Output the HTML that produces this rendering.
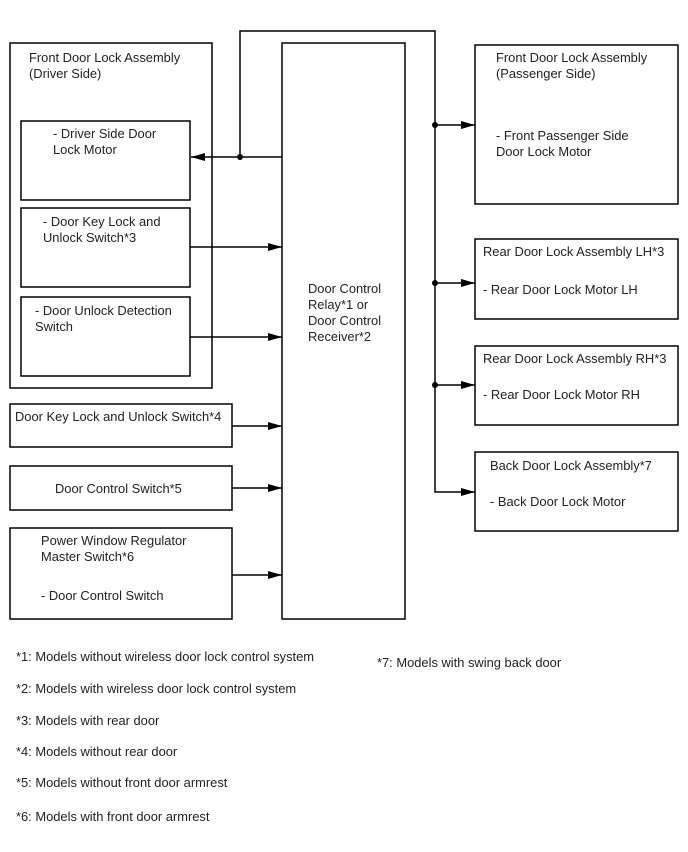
<!DOCTYPE html>
<html><head><meta charset="utf-8"><style>
html,body{margin:0;padding:0;background:#fff;}
svg{display:block;}
text{font-family:"Liberation Sans",Arial,sans-serif;font-size:12.9px;fill:#222;}
</style></head><body>
<svg width="688" height="852" viewBox="0 0 688 852" xmlns="http://www.w3.org/2000/svg">
<defs>
<marker id="a" markerWidth="14" markerHeight="8" refX="14" refY="4" orient="auto" markerUnits="userSpaceOnUse">
<path d="M0,0 L14,4 L0,8 Z" fill="#000"/>
</marker>
</defs>
<g fill="none" stroke="#000" stroke-width="1.5">
<rect x="10" y="43" width="202" height="345"/>
<rect x="21" y="121" width="169" height="79"/>
<rect x="21" y="208" width="169" height="79"/>
<rect x="21" y="297" width="169" height="79"/>
<rect x="10" y="404" width="222" height="43"/>
<rect x="10" y="466" width="222" height="44"/>
<rect x="10" y="528" width="222" height="91"/>
<rect x="282" y="43" width="123" height="576"/>
<rect x="475" y="45" width="203" height="159"/>
<rect x="475" y="239" width="203" height="80"/>
<rect x="475" y="346" width="203" height="79"/>
<rect x="475" y="452" width="203" height="79"/>
<polyline points="282,157 240,157 240,31 435,31 435,492 475,492" marker-end="url(#a)"/>
<line x1="240" y1="157" x2="191" y2="157" marker-end="url(#a)"/>
<line x1="435" y1="125" x2="475" y2="125" marker-end="url(#a)"/>
<line x1="435" y1="283" x2="475" y2="283" marker-end="url(#a)"/>
<line x1="435" y1="385" x2="475" y2="385" marker-end="url(#a)"/>
<line x1="190" y1="247" x2="282" y2="247" marker-end="url(#a)"/>
<line x1="190" y1="337" x2="282" y2="337" marker-end="url(#a)"/>
<line x1="232" y1="426" x2="282" y2="426" marker-end="url(#a)"/>
<line x1="232" y1="488" x2="282" y2="488" marker-end="url(#a)"/>
<line x1="232" y1="575" x2="282" y2="575" marker-end="url(#a)"/>
</g>
<g fill="#000">
<circle cx="240" cy="157" r="3"/>
<circle cx="435" cy="125" r="3"/>
<circle cx="435" cy="283" r="3"/>
<circle cx="435" cy="385" r="3"/>
</g>
<text x="29" y="62">Front Door Lock Assembly</text>
<text x="29" y="78">(Driver Side)</text>
<text x="53" y="138">- Driver Side Door</text>
<text x="53" y="154">Lock Motor</text>
<text x="43" y="226">- Door Key Lock and</text>
<text x="43" y="242">Unlock Switch*3</text>
<text x="35" y="315">- Door Unlock Detection</text>
<text x="35" y="331">Switch</text>
<text x="15" y="421">Door Key Lock and Unlock Switch*4</text>
<text x="55" y="493">Door Control Switch*5</text>
<text x="41" y="545">Power Window Regulator</text>
<text x="41" y="561">Master Switch*6</text>
<text x="41" y="600">- Door Control Switch</text>
<text x="308" y="293">Door Control</text>
<text x="308" y="309">Relay*1 or</text>
<text x="308" y="325">Door Control</text>
<text x="308" y="341">Receiver*2</text>
<text x="496" y="62">Front Door Lock Assembly</text>
<text x="496" y="78">(Passenger Side)</text>
<text x="496" y="140">- Front Passenger Side</text>
<text x="496" y="156">Door Lock Motor</text>
<text x="483" y="256">Rear Door Lock Assembly LH*3</text>
<text x="483" y="294">- Rear Door Lock Motor LH</text>
<text x="483" y="363">Rear Door Lock Assembly RH*3</text>
<text x="483" y="399">- Rear Door Lock Motor RH</text>
<text x="490" y="470">Back Door Lock Assembly*7</text>
<text x="490" y="506">- Back Door Lock Motor</text>
<text x="16" y="661">*1: Models without wireless door lock control system</text>
<text x="16" y="693">*2: Models with wireless door lock control system</text>
<text x="16" y="725">*3: Models with rear door</text>
<text x="16" y="756">*4: Models without rear door</text>
<text x="16" y="787">*5: Models without front door armrest</text>
<text x="16" y="821">*6: Models with front door armrest</text>
<text x="377" y="667">*7: Models with swing back door</text>
</svg>
</body></html>
